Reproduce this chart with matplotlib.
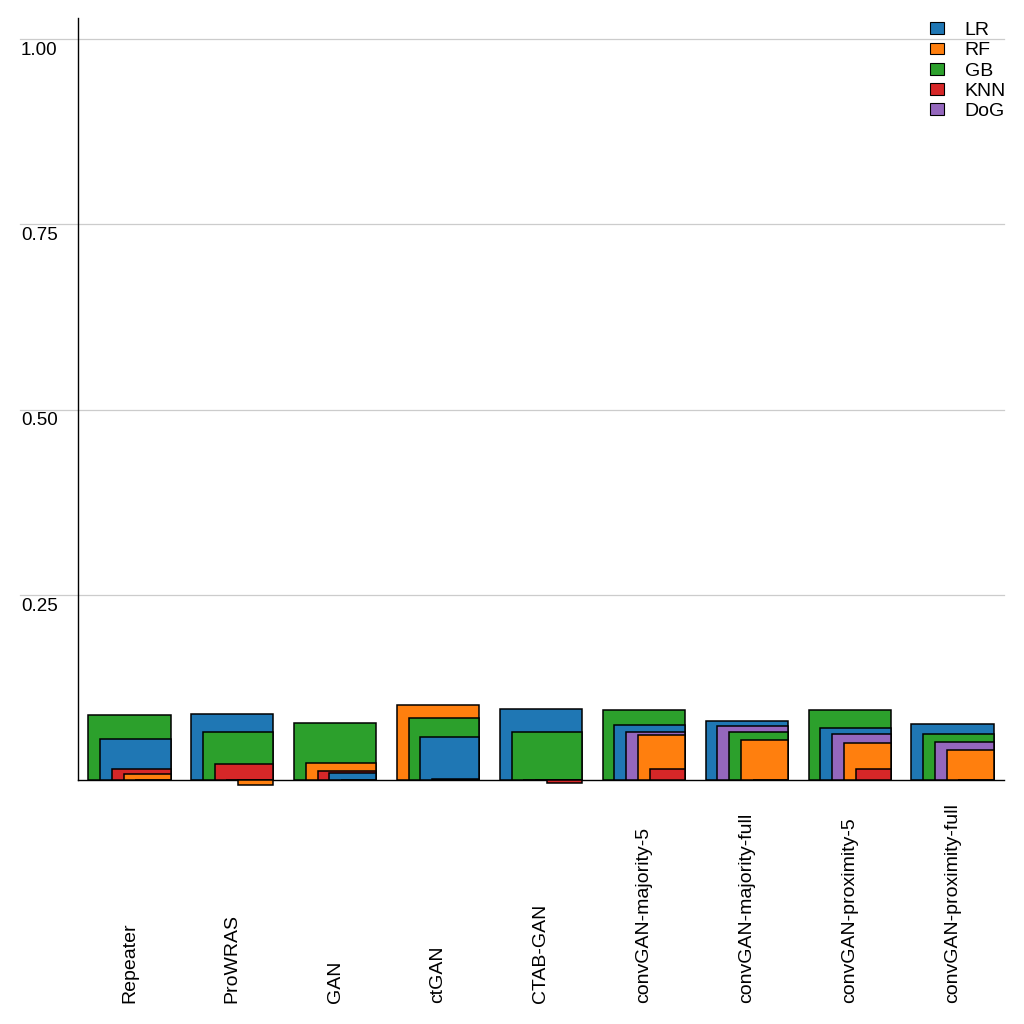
import numpy as np
import matplotlib
matplotlib.use('Agg')
import matplotlib.pyplot as plt
from matplotlib.patches import Patch
from matplotlib import transforms

plt.rcParams['font.family'] = ['Liberation Sans', 'DejaVu Sans']

categories = ['Repeater', 'ProWRAS', 'GAN', 'ctGAN', 'CTAB-GAN',
              'convGAN-majority-5', 'convGAN-majority-full',
              'convGAN-proximity-5', 'convGAN-proximity-full']
models = ['LR', 'RF', 'GB', 'KNN', 'DoG']
colors = ['#1f77b4', '#ff7f0e', '#2ca02c', '#d62728', '#9467bd']

# values per model, one entry per category
LR = [0.0549, 0.0886, 0.0099, 0.0576, 0.0954, 0.0742, 0.0792, 0.0697, 0.0751]
RF = [0.0076, -0.0072, 0.0225, 0.1008, 0.0, 0.0603, 0.0535, 0.0495, 0.0400]
GB = [0.0873, 0.0643, 0.0765, 0.0841, 0.0643, 0.0940, 0.0643, 0.0940, 0.0616]
KNN = [0.0144, 0.0216, 0.0117, 0.0012, -0.0045, 0.0144, 0.0, 0.0144, 0.0]
DoG = [0.0, 0.0, 0.0, 0.0, 0.0, 0.0643, 0.0724, 0.0616, 0.0508]
yticks = [0.25, 0.50, 0.75, 1.00]
ytick_labels = ['0.25', '0.50', '0.75', '1.00']

vals = np.array([LR, RF, GB, KNN, DoG])

fig = plt.figure(figsize=(10.24, 10.24), dpi=100)
ax = fig.add_axes([78/1024, 1-780/1024, 926/1024, 762/1024])

full_w = 0.8
step = 0.8/7
for j, cat in enumerate(categories):
    order = sorted(range(len(models)), key=lambda m: -vals[m, j])
    for i, m in enumerate(order):
        ax.bar(j - full_w/2 + i*step, vals[m, j], width=full_w - i*step,
               align='edge', color=colors[m], edgecolor='black', linewidth=1.1,
               zorder=3 + i, clip_on=False)

ax.set_xlim(-0.5, len(categories) - 0.5)
ax.set_ylim(0, 762/741)
ax.set_xticks([])
ax.set_yticks([])
ax.spines['top'].set_visible(False)
ax.spines['right'].set_visible(False)
ax.spines['left'].set_linewidth(1.0)
ax.spines['bottom'].set_linewidth(1.0)

# grid lines reaching out under the tick labels
x0 = (20 - 78) / 926
for yv, lab in zip(yticks, ytick_labels):
    ax.axhline(yv, xmin=x0, xmax=1, color='#cccccc', lw=0.9, zorder=0, clip_on=False)
    ax.text(x0 + 0.001, yv - 0.004, lab, ha='left', va='top', fontsize=13.5,
            transform=ax.get_yaxis_transform())

# category labels, rotated, aligned on a common bottom line
trans = transforms.blended_transform_factory(ax.transData, fig.transFigure)
for j, cat in enumerate(categories):
    ax.text(j, 1 - 1003/1024, cat, rotation=90, ha='center', va='bottom',
            fontsize=14, transform=trans)

handles = [Patch(facecolor=c, edgecolor='black', linewidth=0.8) for c in colors]
fig.legend(handles, models, loc='upper right', bbox_to_anchor=(1006/1024, 1 - 22/1024),
           frameon=False, fontsize=14, handlelength=0.75, handleheight=0.55,
           handletextpad=1.05, labelspacing=0.17, borderpad=0, borderaxespad=0)

plt.savefig('out.png', dpi=100)
